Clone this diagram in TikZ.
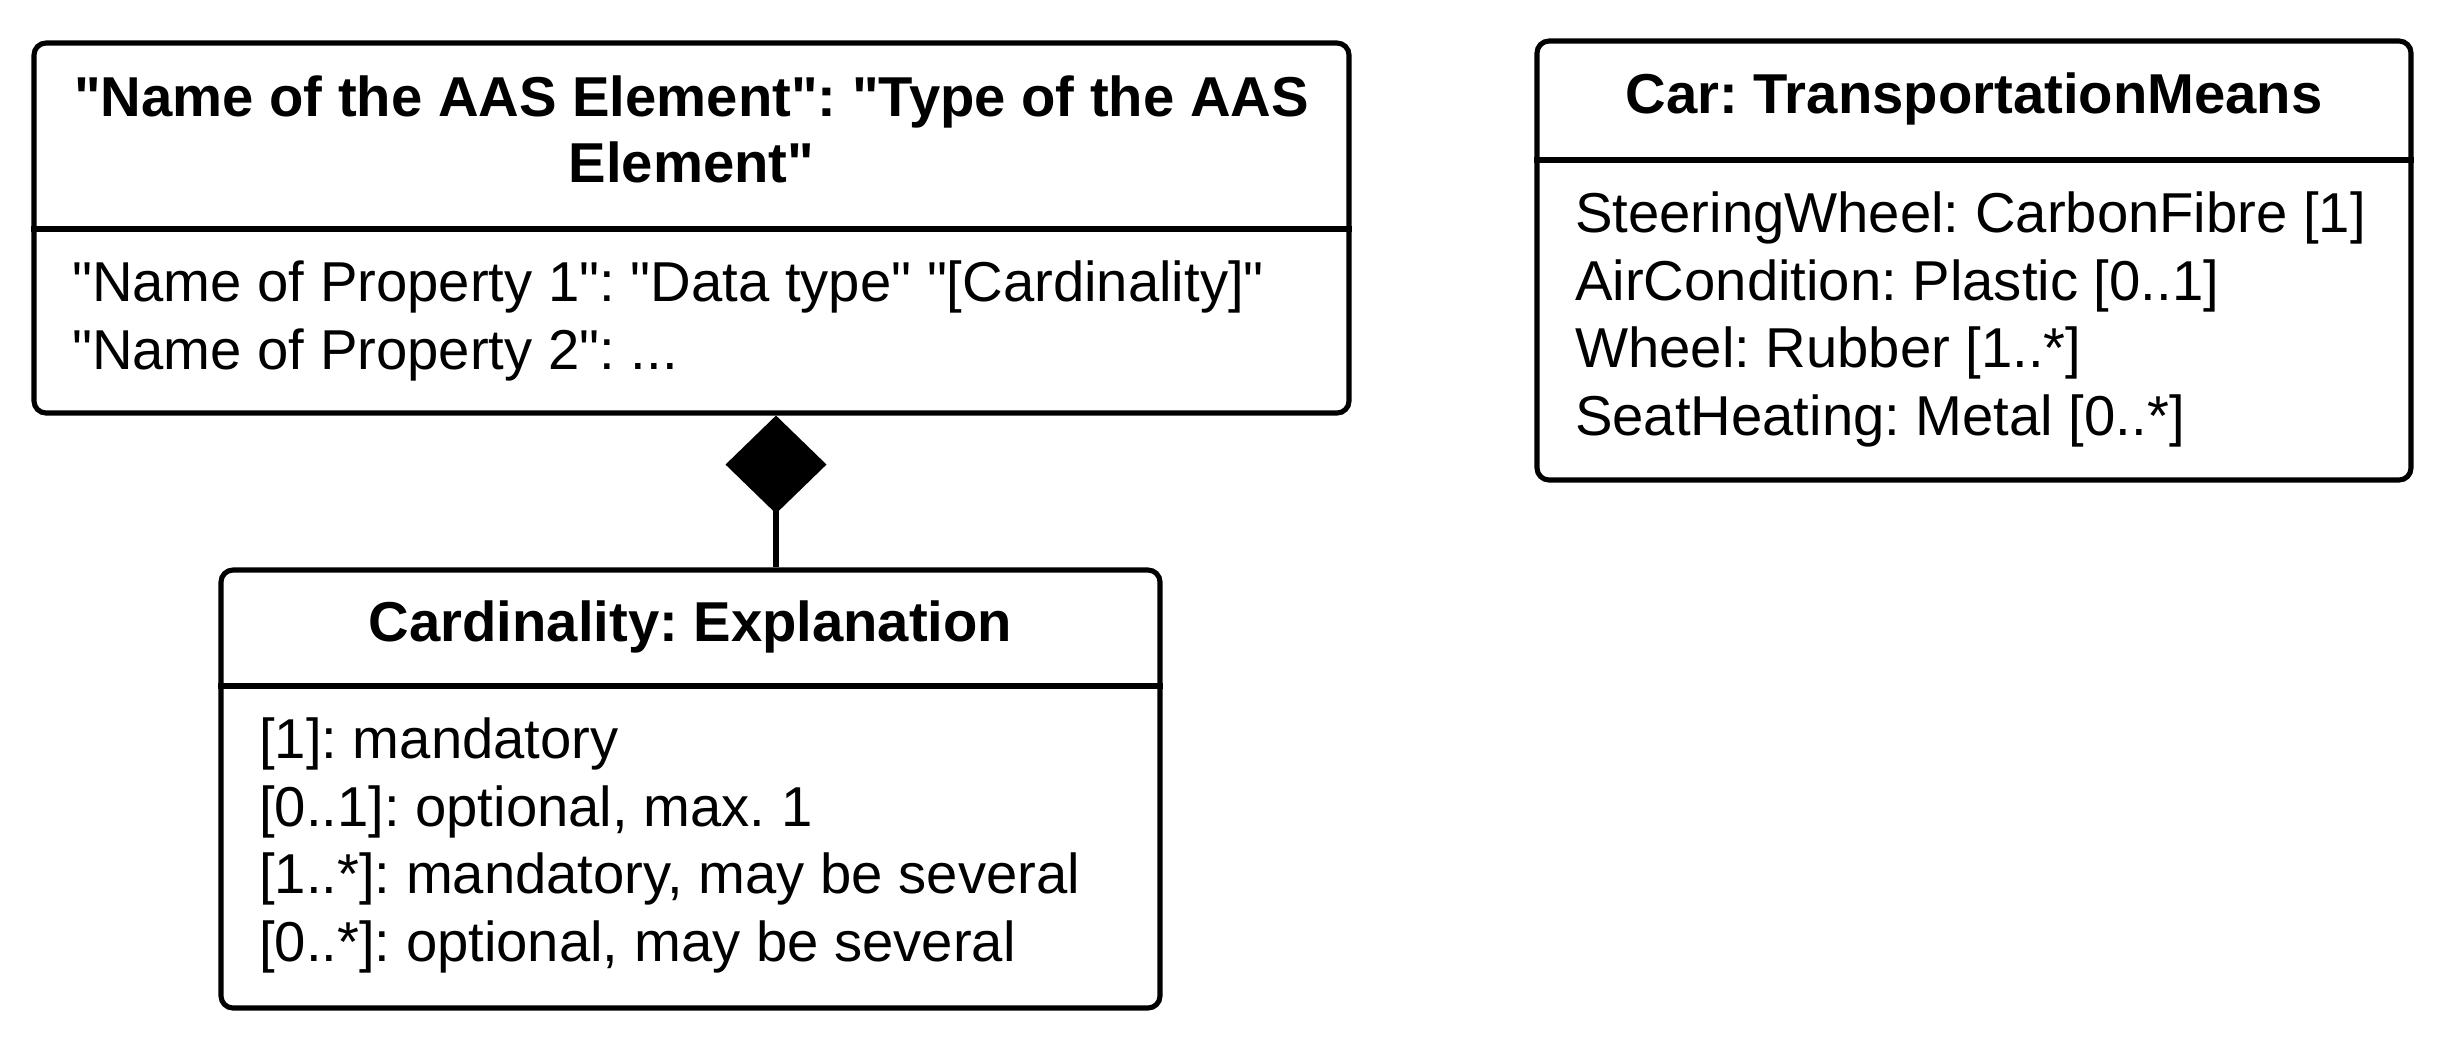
\documentclass[tikz,border=0pt]{standalone}
\usepackage{fontspec}
\setmainfont{Liberation Sans}[Ligatures=TeXOff]
\usepackage{tikz}
\usetikzlibrary{arrows.meta,positioning,calc}
\frenchspacing

\begin{document}
\begin{tikzpicture}[
  classbox/.style={rectangle,draw,line width=1.45pt,rounded corners=0.12cm,
                   inner sep=0pt},
  classtitle/.style={font=\fontsize{16pt}{18.8pt}\selectfont\bfseries,
                     align=center,inner sep=0pt},
  attrs/.style={font=\fontsize{16pt}{19.2pt}\selectfont,align=left,
                anchor=north west,inner sep=0pt},
  sepline/.style={line width=1.45pt},
  compo/.style={line width=1.45pt,-{Diamond[length=0.98cm,width=1.01cm]}}
]
\useasboundingbox (0,0) rectangle (24.4,-10.5);
%% Boxes
\node[classbox,minimum width=13.15cm,minimum height=3.70cm] (aas)  at (6.915,-2.28)  {};
\node[classbox,minimum width=8.74cm,minimum height=4.39cm]  (car)  at (19.74,-2.605) {};
\node[classbox,minimum width=9.39cm,minimum height=4.38cm]  (card) at (6.905,-7.89)  {};
%% Dividers
\coordinate (aasline)  at (0,-2.29);
\coordinate (carline)  at (0,-1.60);
\coordinate (cardline) at (0,-6.86);
\draw[sepline] (aas.west |- aasline)   -- (aas.east |- aasline);
\draw[sepline] (car.west |- carline)   -- (car.east |- carline);
\draw[sepline] (card.west |- cardline) -- (card.east |- cardline);
%% Titles
\node[classtitle,yshift=0.05cm] (aastitle)  at ($(aas.north)!0.5!(aas.north |- aasline)$)
  {"Name of the AAS Element": "Type of the AAS\\Element"};
\node[classtitle] (cartitle)  at ($(car.north)!0.5!(car.north |- carline)$)
  {Car: TransportationMeans};
\node[classtitle] (cardtitle) at ($(card.north)!0.5!(card.north |- cardline)$)
  {Cardinality: Explanation};
%% Attributes
\node[attrs] (aasattr) at ([xshift=0.40cm,yshift=-0.25cm]aas.west |- aasline)
  {\strut"Name of Property 1": "Data type" "[Cardinality]"\\
   "Name of Property 2": ...};
\node[attrs] (carattr) at ([xshift=0.40cm,yshift=-0.25cm]car.west |- carline)
  {\strut SteeringWheel: CarbonFibre [1]\\
   AirCondition: Plastic [0..1]\\
   Wheel: Rubber [1..*]\\
   SeatHeating: Metal [0..*]};
\node[attrs] (cardattr) at ([xshift=0.40cm,yshift=-0.25cm]card.west |- cardline)
  {\strut{[1]}: mandatory\\
   {[0..1]}: optional, max. 1\\
   {[1..*]}: mandatory, may be several\\
   {[0..*]}: optional, may be several};
%% Composition
\coordinate (diam) at (7.76,0);
\draw[compo] (card.north -| diam) -- (aas.south -| diam);
\end{tikzpicture}
\end{document}
